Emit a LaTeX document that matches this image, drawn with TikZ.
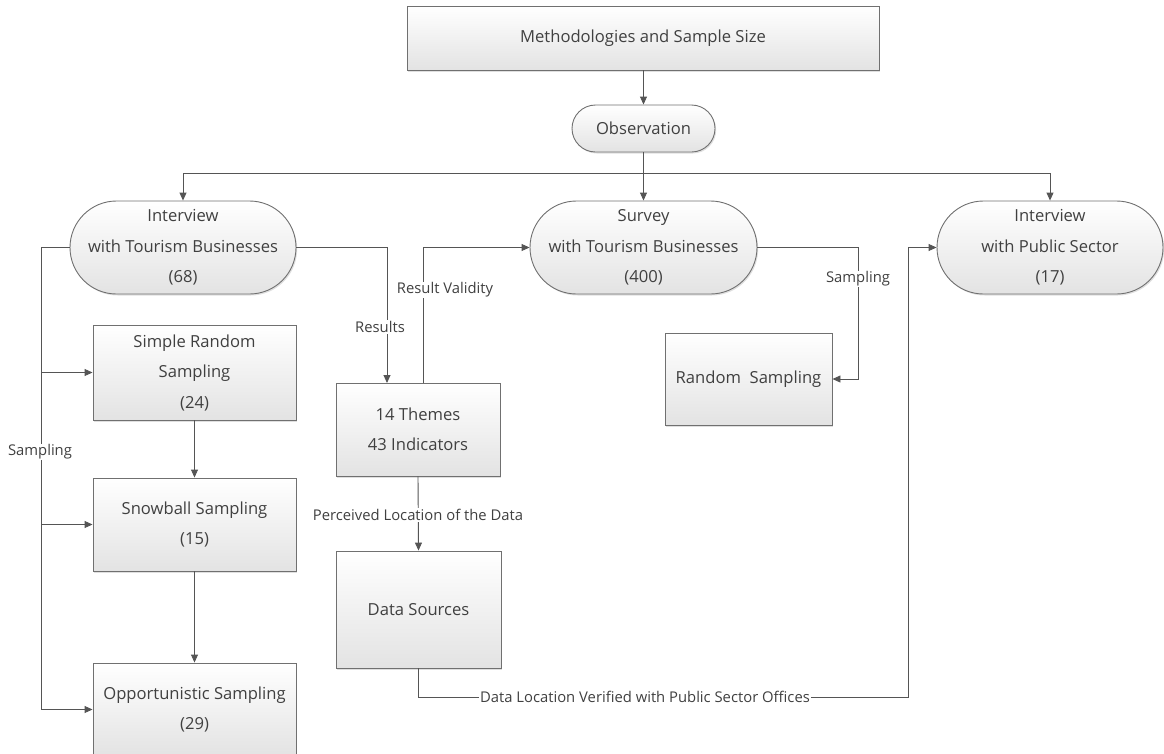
\documentclass[tikz,border=0pt]{standalone}
\usepackage{fontspec}
\setmainfont{Open Sans}
\usetikzlibrary{arrows.meta,shadows,calc}
\definecolor{txt}{HTML}{404040}
\definecolor{ln}{HTML}{555555}
\definecolor{bd}{HTML}{707070}
\tikzset{
  boxnode/.style={draw=bd, line width=0.9pt, top color=white, bottom color=black!11,
    drop shadow={opacity=0.25, shadow xshift=1.2pt, shadow yshift=-1.5pt},
    text=txt, align=center, inner sep=0pt,
    font=\fontsize{16.6}{30.5}\selectfont},
  pill/.style={boxnode, rounded corners=46.5pt},
  arr/.style={draw=ln, line width=0.9pt, -{Triangle[length=8pt,width=7pt]}},
  ln/.style={draw=ln, line width=0.9pt},
  lbl/.style={fill=white, text=txt, inner sep=1pt, font=\fontsize{14.8}{16}\selectfont}
}
\begin{document}
\begin{tikzpicture}[x=1pt,y=-1pt]
\useasboundingbox (0,0) rectangle (1164,753);
\clip (0,0) rectangle (1164,753);
% nodes
\node[boxnode, minimum width=472pt, minimum height=64pt] (top) at (643,38) {Methodologies and Sample Size};
\node[boxnode, rounded corners=23.5pt, minimum width=143pt, minimum height=47pt] (obs) at (643.5,128.5) {Observation};
\node[pill, minimum width=226pt, minimum height=93pt] (int1) at (183,247.5) {Interview\\with Tourism Businesses\\(68)};
\node[pill, minimum width=227pt, minimum height=93pt] (survey) at (643.5,247.5) {Survey\\with Tourism Businesses\\(400)};
\node[pill, minimum width=226pt, minimum height=93pt] (int2) at (1050,247.5) {Interview\\with Public Sector\\(17)};
\node[boxnode, minimum width=203pt, minimum height=95pt] (srs) at (194.5,372.5) {Simple Random\\Sampling\\(24)};
\node[boxnode, minimum width=203pt, minimum height=93pt] (snow) at (194.5,524.5) {Snowball Sampling\\(15)};
\node[boxnode, minimum width=203pt, minimum height=93pt] (opp) at (194.5,709.5) {Opportunistic Sampling\\(29)};
\node[boxnode, minimum width=164pt, minimum height=93pt] (themes) at (418,429.5) {14 Themes\\43 Indicators};
\node[boxnode, minimum width=165pt, minimum height=117pt] (ds) at (418.5,609.5) {Data Sources};
\node[boxnode, minimum width=167pt, minimum height=92pt] (rand) at (748.5,379) {Random\ \ Sampling};
% coordinates
\coordinate (bus) at (643,173);
\coordinate (res) at (387,383);
\coordinate (val) at (423,383);
\coordinate (c1) at (908,697);
% connectors
\draw[arr] (top.south -| obs.north) -- (obs.north);
\draw[arr] (obs.south) -- (survey.north);
\draw[arr] (bus) -| (int1.north);
\draw[arr] (bus) -| (int2.north);
\draw[arr] (int1.west) -- ++(-28,0) |- (srs.west);
\draw[arr] (int1.west) -- ++(-28,0) |- (snow.west);
\draw[arr] (int1.west) -- ++(-28,0) |- (opp.west);
\node[lbl] (l1) at (40,452) {Sampling};
\draw[arr] (srs.south) -- (snow.north);
\draw[arr] (snow.south) -- (opp.north);
\draw[arr] (int1.east) -| (res);
\node[lbl] (l2) at (380,327) {Results};
\draw[arr] (val) |- (survey.west);
\node[lbl] (l3) at (445,290) {Result Validity};
\draw[arr] (themes.south) -- (ds.north);
\node[lbl] (l4) at (418,515) {Perceived Location of the Data};
\draw[arr] (survey.east) -- ++(101,0) |- (rand.east);
\node[lbl] (l5) at (858,279) {Sampling};
\draw[arr] (ds.south) |- (c1) |- (int2.west);
\node[lbl] (l6) at (645,697) {Data Location Verified with Public Sector Offices};
\end{tikzpicture}
\end{document}
